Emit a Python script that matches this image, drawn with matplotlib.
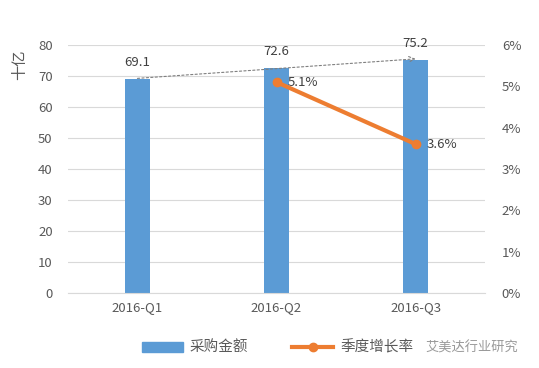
import matplotlib
matplotlib.use("Agg")
import matplotlib.pyplot as plt
from matplotlib.patches import Patch
from matplotlib.lines import Line2D

plt.rcParams['font.family'] = ['Noto Sans CJK SC', 'DejaVu Sans']

categories = ["2016-Q1", "2016-Q2", "2016-Q3"]
amounts = [69.1, 72.6, 75.2]
growth_cats = ["2016-Q2", "2016-Q3"]
growth = [5.1, 3.6]
left_ticks = [0, 10, 20, 30, 40, 50, 60, 70, 80]
right_ticks = [0, 1, 2, 3, 4, 5, 6]

blue = "#5B9BD5"
orange = "#ED7D31"
tcol = "#595959"

fig = plt.figure(figsize=(5.39, 3.68), dpi=100)
ax = fig.add_axes([0.126, 0.204, 0.774, 0.674])
x = list(range(len(categories)))
ax.bar(x, amounts, width=0.175, color=blue, zorder=2)
ax.set_ylim(0, 80)
ax.set_xlim(-0.5, 2.5)
ax.set_yticks(left_ticks)
ax.set_xticks(x)
ax.set_xticklabels(categories)
ax.grid(axis='y', color="#D9D9D9", linewidth=0.8, zorder=0)
for s in ax.spines.values():
    s.set_visible(False)
ax.spines['bottom'].set_visible(True)
ax.spines['bottom'].set_color("#D9D9D9")
ax.tick_params(axis='both', length=0, colors=tcol, labelsize=9.5)
ax.tick_params(axis='y', pad=11)
ax.tick_params(axis='x', pad=6)
ax.set_ylabel("十亿", color=tcol, fontsize=11)
ax.yaxis.set_label_coords(-0.095, 0.92)

for xi, v in zip(x, amounts):
    ax.text(xi, v + 3.2, f"{v}", ha='center', va='bottom', color="#404040", fontsize=9.5)

# dashed trend arrow
ax.annotate("", xy=(2.0, amounts[2] + 0.3), xytext=(0.0, amounts[0] + 0.1),
            arrowprops=dict(arrowstyle="->", color="#7F7F7F", linestyle=(0, (2, 2)),
                            linewidth=0.8, shrinkA=0, shrinkB=0), zorder=3)

ax2 = ax.twinx()
ax2.set_ylim(0, 6)
ax2.set_yticks(right_ticks)
ax2.set_yticklabels([f"{t}%" for t in right_ticks])
for s in ax2.spines.values():
    s.set_visible(False)
ax2.tick_params(axis='y', length=0, colors=tcol, labelsize=9.5, pad=12)
gx = [categories.index(c) for c in growth_cats]
ax2.plot(gx, growth, color=orange, linewidth=3, marker='o', markersize=6, zorder=4)
for xi, v in zip(gx, growth):
    ax2.text(xi + 0.08, v, f"{v}%", ha='left', va='center', color="#404040", fontsize=9.5)

handles = [Patch(color=blue), Line2D([0], [0], color=orange, linewidth=3, marker='o', markersize=6)]
fig.legend(handles, ["采购金额", "季度增长率"], loc='center', bbox_to_anchor=(0.515, 0.055),
           ncol=2, frameon=False, fontsize=10.5, labelcolor=tcol, handlelength=2.8,
           columnspacing=3.0, handletextpad=0.5)

fig.text(0.79, 0.055, "艾美达行业研究", color="#9A9A9A", fontsize=9.5, ha='left', va='center')

fig.savefig("out.png", dpi=100)
